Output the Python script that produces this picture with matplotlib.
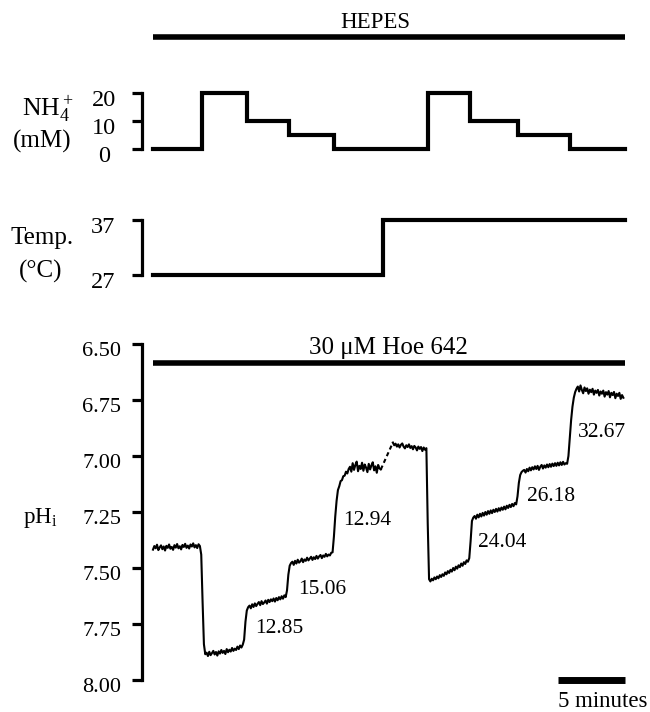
import matplotlib
matplotlib.use('Agg')
import matplotlib.pyplot as plt
import numpy as np
from matplotlib.transforms import ScaledTranslation

plt.rcParams['font.family'] = ['Liberation Serif', 'DejaVu Serif']
plt.rcParams['mathtext.fontset'] = 'custom'
plt.rcParams['mathtext.rm'] = 'Liberation Serif'
plt.rcParams['mathtext.it'] = 'Liberation Serif:italic'

# ---------------- data ----------------
# NH4+ protocol (mM), step edges in minutes
nh4_times = [0, 3.66, 7.0, 10.15, 13.47, 20.5, 23.65, 27.24, 31.1, 35.2]
nh4_vals = [0, 20, 10, 5, 0, 20, 10, 5, 0, 0]
nh4_ticks = [0, 10, 20]

# Temperature protocol (deg C)
temp_times = [0, 17.15, 35.2]
temp_vals = [27, 37, 37]
temp_ticks = [27, 37]

# pHi recording, sampled every 0.1 min
dt = 0.1
seg1_start = 0.0
seg1_ph = [
    7.418, 7.402, 7.412, 7.396, 7.420, 7.408, 7.399, 7.416, 7.404, 7.422,
    7.401, 7.410, 7.395, 7.414, 7.406, 7.419, 7.398, 7.409, 7.393, 7.412,
    7.403, 7.417, 7.397, 7.406, 7.392, 7.410, 7.400, 7.413, 7.395, 7.404,
    7.390, 7.408, 7.398, 7.411, 7.394, 7.402,
    7.44, 7.65, 7.84, 7.885,
    7.878, 7.893, 7.874, 7.889, 7.880, 7.870, 7.886, 7.875, 7.891, 7.872,
    7.882, 7.866, 7.879, 7.870, 7.884, 7.862, 7.876, 7.865, 7.873, 7.857,
    7.870, 7.860, 7.866, 7.851, 7.862, 7.846, 7.855, 7.842,
    7.82, 7.74, 7.69, 7.675,
    7.668, 7.680, 7.662, 7.674, 7.658, 7.670, 7.660, 7.652, 7.666, 7.648,
    7.661, 7.654, 7.645, 7.659, 7.642, 7.652, 7.640, 7.648, 7.636, 7.650,
    7.634, 7.644, 7.630, 7.640, 7.626, 7.637, 7.622, 7.630,
    7.60, 7.53, 7.49, 7.478,
    7.472, 7.486, 7.468, 7.480, 7.463, 7.476, 7.470, 7.458, 7.474, 7.462,
    7.468, 7.454, 7.466, 7.458, 7.450, 7.464, 7.452, 7.460, 7.446, 7.458,
    7.448, 7.442, 7.456, 7.444, 7.450, 7.437, 7.448, 7.440, 7.444, 7.432,
    7.43, 7.36, 7.27, 7.20, 7.152, 7.135, 7.112, 7.108, 7.090, 7.088,
    7.070, 7.078, 7.058,
    7.048, 7.070, 7.032, 7.062, 7.040, 7.025, 7.068, 7.044, 7.058, 7.030,
    7.066, 7.038, 7.052, 7.072, 7.035, 7.060, 7.042, 7.028, 7.064, 7.046,
    7.075, 7.040, 7.055, 7.060]
seg2_start = 17.9
seg2_ph = [
    6.940, 6.952, 6.945, 6.958, 6.948, 6.962, 6.950, 6.944, 6.958, 6.966,
    6.952, 6.960, 6.948, 6.964, 6.956, 6.970, 6.955, 6.962, 6.975, 6.958,
    6.968, 6.960, 6.978, 6.962, 6.972, 6.965,
    7.30, 7.55,
    7.560, 7.548, 7.555, 7.542, 7.550, 7.538, 7.546, 7.532, 7.540, 7.528,
    7.535, 7.520, 7.528, 7.514, 7.522, 7.508, 7.516, 7.500, 7.510, 7.494,
    7.503, 7.488, 7.496, 7.480, 7.490, 7.474, 7.482, 7.466, 7.472, 7.456,
    7.38, 7.29, 7.275,
    7.268, 7.280, 7.262, 7.274, 7.258, 7.270, 7.254, 7.266, 7.250, 7.262,
    7.246, 7.258, 7.243, 7.255, 7.240, 7.250, 7.236, 7.248, 7.233, 7.244,
    7.230, 7.240, 7.226, 7.238, 7.222, 7.232, 7.218, 7.228, 7.214, 7.224,
    7.210, 7.216,
    7.18, 7.12, 7.085, 7.072, 7.066,
    7.062, 7.074, 7.058, 7.068, 7.052, 7.064, 7.050, 7.060, 7.046, 7.058,
    7.044, 7.062, 7.048, 7.040, 7.056, 7.042, 7.052, 7.038, 7.050, 7.036,
    7.048, 7.034, 7.045, 7.032, 7.044, 7.030, 7.042, 7.028, 7.040, 7.026,
    7.038, 7.032,
    7.035, 7.00, 6.92, 6.84, 6.78, 6.74, 6.715, 6.70,
    6.690, 6.712, 6.685, 6.705, 6.720, 6.694, 6.710, 6.698, 6.722, 6.704,
    6.715, 6.700, 6.726, 6.708, 6.718, 6.705, 6.730, 6.712, 6.722, 6.708,
    6.735, 6.715, 6.726, 6.710, 6.738, 6.718, 6.728, 6.714, 6.742, 6.722,
    6.732, 6.718, 6.745, 6.728, 6.740]
gap_t = [17.0, 17.9]
gap_ph = [7.060, 6.940]
ph_ticks = [6.50, 6.75, 7.00, 7.25, 7.50, 7.75, 8.00]

# buffering power annotations
ann_text = ['12.85', '15.06', '12.94', '24.04', '26.18', '32.67']
ann_t = [7.6, 10.8, 14.2, 24.25, 27.9, 31.7]
ann_ph = [7.772, 7.594, 7.29, 7.388, 7.179, 6.897]

bar_start, bar_end = 0.0, 35.2
scale_start, scale_end = 30.2, 35.2

# ---------------- layout ----------------
W, H = 650, 712
fig = plt.figure(figsize=(W / 100, H / 100), dpi=100)


def rect(l, t, r, b):
    return [l / W, 1 - b / H, (r - l) / W, (b - t) / H]


XL = (-0.82, 36.34)
shift = ScaledTranslation(0, -5 / 100, fig.dpi_scale_trans)


def style_axis(ax, ticks, labels, fs, pad, ha='right'):
    ax.set_xlim(*XL)
    for s in ['top', 'right', 'bottom']:
        ax.spines[s].set_visible(False)
    ax.spines['left'].set_linewidth(2.3)
    ax.spines['left'].set_bounds(min(ticks), max(ticks))
    ax.set_xticks([])
    ax.set_yticks(ticks)
    ax.set_yticklabels(labels, fontsize=fs)
    ax.tick_params(axis='y', direction='out', length=7.5, width=2.3, pad=pad)
    ax.patch.set_visible(False)
    for lab in ax.get_yticklabels():
        lab.set_transform(lab.get_transform() + shift)
        lab.set_horizontalalignment(ha)


# HEPES bar
axh = fig.add_axes(rect(142, 0, 640, 37))
axh.set_xlim(*XL)
axh.set_ylim(0, 1)
axh.axis('off')
axh.hlines(0, bar_start, bar_end, color='black', lw=4.0, clip_on=False)
axh.text(16.57, 0.40, 'HEPES', ha='center', va='center', fontsize=16.5)

# NH4 panel
axn = fig.add_axes(rect(142, 93, 640, 149))
axn.set_ylim(0, 20)
axn.plot(nh4_times, nh4_vals, drawstyle='steps-post', color='black', lw=3.0,
         clip_on=False, solid_joinstyle='miter')
style_axis(axn, nh4_ticks, [str(v) for v in nh4_ticks], 17.5, 7.5, ha='center')
for lab in axn.get_yticklabels():
    lab.set_transform(lab.get_transform() + ScaledTranslation(-0.17, 0, fig.dpi_scale_trans))
axn.text(-0.19, 0.607, r'NH$_4^+$', transform=axn.transAxes, ha='center', va='baseline', fontsize=18.5)
axn.text(-0.20, 0.027, '(mM)', transform=axn.transAxes, ha='center', va='baseline', fontsize=18)

# Temperature panel
axt = fig.add_axes(rect(142, 220, 640, 275))
axt.set_ylim(27, 37)
axt.plot(temp_times, temp_vals, drawstyle='steps-post', color='black', lw=3.0,
         clip_on=False, solid_joinstyle='miter')
style_axis(axt, temp_ticks, [str(v) for v in temp_ticks], 17.5, 11.8)
axt.text(-0.20, 0.564, 'Temp.', transform=axt.transAxes, ha='center', va='baseline', fontsize=18)
axt.text(-0.204, -0.045, '(°C)', transform=axt.transAxes, ha='center', va='baseline', fontsize=18)

# pH panel
axp = fig.add_axes(rect(142, 344, 640, 680))
axp.set_ylim(8.0, 6.5)
t1 = seg1_start + dt * np.arange(len(seg1_ph))
t2 = seg2_start + dt * np.arange(len(seg2_ph))
axp.plot(t1, seg1_ph, color='black', lw=1.5, clip_on=False)
axp.plot(t2, seg2_ph, color='black', lw=1.5, clip_on=False)
axp.plot(gap_t, gap_ph, color='black', lw=1.5, ls=(0, (2, 1.5)), clip_on=False)
style_axis(axp, ph_ticks, ['%.2f' % v for v in ph_ticks], 16, 7.5)
axp.text(-0.205, 0.482, r'pH$_\mathrm{i}$', transform=axp.transAxes, ha='center', va='center', fontsize=16.5)

axp.hlines(6.585, bar_start, bar_end, color='black', lw=4.0, clip_on=False)
axp.text((bar_start + bar_end) / 2, 6.52, '30 μM Hoe 642', ha='center', va='center', fontsize=18)

for s, t, p in zip(ann_text, ann_t, ann_ph):
    axp.text(t, p, s, ha='left', va='center', fontsize=15.5)

axp.hlines(8.0, scale_start, scale_end, color='black', lw=5.0, clip_on=False)
axp.text(33.58, 8.094, '5 minutes', ha='center', va='center', fontsize=16.5, clip_on=False)

fig.savefig('out.png', dpi=100)
